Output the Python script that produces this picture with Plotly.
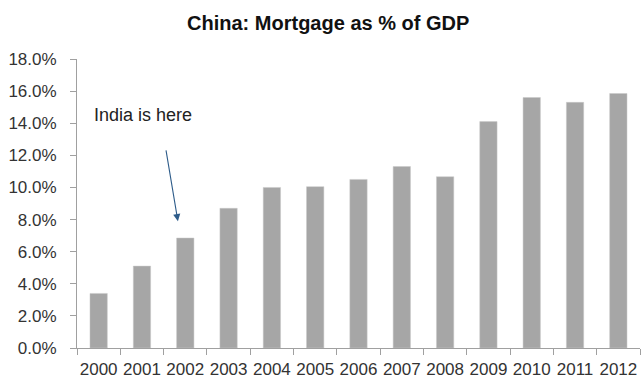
import plotly.graph_objects as go

# Mortgage lending as a share of GDP, China
years = ["2000", "2001", "2002", "2003", "2004", "2005", "2006",
         "2007", "2008", "2009", "2010", "2011", "2012"]
mortgage_pct_gdp = [3.4, 5.1, 6.85, 8.7, 10.0, 10.05, 10.5,
                    11.3, 10.67, 14.1, 15.6, 15.3, 15.85]
y_ticks = [0, 2, 4, 6, 8, 10, 12, 14, 16, 18]

font_family = "Liberation Sans, Arial, sans-serif"

fig = go.Figure(
    go.Bar(
        x=years,
        y=mortgage_pct_gdp,
        marker=dict(color="#A6A6A6", line=dict(color="#C8C8C8", width=0.5)),
        width=0.4,
    )
)

fig.update_layout(
    width=641,
    height=379,
    margin=dict(l=77, r=1, t=59, b=31),
    paper_bgcolor="white",
    plot_bgcolor="white",
    showlegend=False,
    title=dict(
        text="<b>China: Mortgage as % of GDP</b>",
        x=0.512, xanchor="center", y=0.938, yanchor="middle",
        font=dict(family=font_family, size=20, color="#111111"),
    ),
    font=dict(family=font_family, size=17, color="#333333"),
)

fig.update_xaxes(
    type="category",
    range=[-0.5, 12.5],
    showline=True, linecolor="#A0A0A0", linewidth=1,
    ticks="outside", tickson="boundaries", ticklen=6,
    tickcolor="#A0A0A0", tickwidth=1,
    tickangle=0, automargin=False, ticklabelstandoff=6,
    showgrid=False,
    tickfont=dict(size=17, color="#333333"),
)

fig.update_yaxes(
    range=[0, 18],
    tickvals=y_ticks,
    ticktext=[f"{v:.1f}%" for v in y_ticks],
    showline=True, linecolor="#A0A0A0", linewidth=1,
    ticks="outside", ticklen=6, tickcolor="#A0A0A0", tickwidth=1,
    ticklabelstandoff=10, automargin=False,
    showgrid=False, zeroline=False,
    tickfont=dict(size=17, color="#333333"),
)

# Callout pointing at 2002
fig.add_annotation(
    x=1.83, y=7.9, xref="x", yref="y",
    ax=1.55, ay=12.4, axref="x", ayref="y",
    text="", showarrow=True,
    arrowhead=2, arrowsize=1.3, arrowwidth=1.1, arrowcolor="#2E5C8A",
)
fig.add_annotation(
    x=1.03, y=14.5, xref="x", yref="y",
    text="India is here", showarrow=False,
    xanchor="center", yanchor="middle",
    font=dict(family=font_family, size=18, color="#222222"),
)

fig.write_html("out.html")
